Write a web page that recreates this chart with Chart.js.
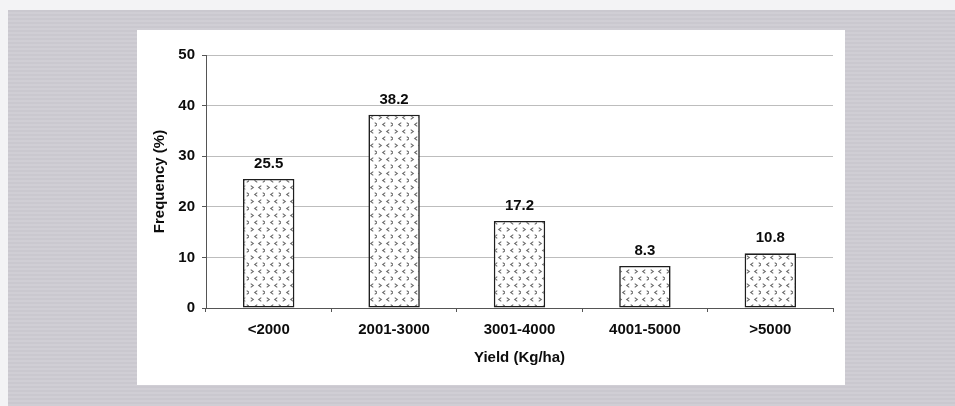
<!DOCTYPE html>
<html>
<head>
<meta charset="utf-8">
<script src="https://cdn.jsdelivr.net/npm/chart.js@4.4.1/dist/chart.umd.min.js"></script>
<style>
  html, body { margin: 0; padding: 0; width: 955px; height: 406px; overflow: hidden; background: #f3f3f5; }
  #page { position: absolute; left: 8px; top: 10px; right: 0; bottom: 0;
          background: #cdcbd2;
          background-image: repeating-linear-gradient(0deg, rgba(255,255,255,0.06) 0 2px, rgba(0,0,0,0.015) 2px 4px); }
  #panel { position: absolute; left: 137px; top: 30px; width: 708px; height: 355px; background: #fff; }
  #chart { display: block; }
</style>
</head>
<body>
<div id="page"></div>
<div id="panel"><canvas id="chart" width="708" height="355"></canvas></div>
<script>
// ── Data ─────────────────────────────────────────────────────────────────────
const CATEGORIES = ['<2000', '2001-3000', '3001-4000', '4001-5000', '>5000'];
const FREQUENCY = [25.5, 38.2, 17.2, 8.3, 10.8];
const Y_TICKS = [0, 10, 20, 30, 40, 50];

const FONT = { family: "'Liberation Sans', Arial, sans-serif", size: 15, weight: 'bold' };
const INK = '#0c0c0c';

// ── Dotted chevron fill like the scanned bars ────────────────────────────────
function makePattern() {
  const tile = document.createElement('canvas');
  tile.width = 16; tile.height = 14;
  const c = tile.getContext('2d');
  c.fillStyle = '#fff';
  c.fillRect(0, 0, 16, 14);
  c.strokeStyle = '#6a6a6a';
  c.lineWidth = 1.1;
  const chev = (x, y, dir) => {
    c.beginPath();
    c.moveTo(x - 1.3 * dir, y - 1.9);
    c.lineTo(x + 1.3 * dir, y);
    c.lineTo(x - 1.3 * dir, y + 1.9);
    c.stroke();
  };
  chev(3, 3.5, 1); chev(11, 3.5, -1);
  chev(7, 10.5, -1); chev(15, 10.5, 1);
  return c.createPattern(tile, 'repeat');
}

// ── Value labels above each bar ──────────────────────────────────────────────
const valueLabels = {
  id: 'valueLabels',
  afterDatasetsDraw(chart) {
    const { ctx } = chart;
    const meta = chart.getDatasetMeta(0);
    ctx.save();
    ctx.font = `${FONT.weight} ${FONT.size}px ${FONT.family}`;
    ctx.fillStyle = INK;
    ctx.textAlign = 'center';
    ctx.textBaseline = 'middle';
    meta.data.forEach((bar, i) => {
      ctx.fillText(FREQUENCY[i].toFixed(1), bar.x, bar.y - 15);
    });
    ctx.restore();
  }
};

const ctx = document.getElementById('chart').getContext('2d');
new Chart(ctx, {
  type: 'bar',
  data: {
    labels: CATEGORIES,
    datasets: [{
      data: FREQUENCY,
      backgroundColor: makePattern(),
      borderColor: '#1e1e1e',
      borderWidth: 1.6,
      borderSkipped: false,
      barPercentage: 0.41,
      categoryPercentage: 1,
    }]
  },
  options: {
    responsive: false,
    animation: false,
    layout: { padding: { top: 25, right: 12, left: 0, bottom: 0 } },
    plugins: { legend: { display: false }, tooltip: { enabled: false } },
    scales: {
      x: {
        afterFit: s => { s.height = 77; },
        grid: { drawOnChartArea: false, drawTicks: true, tickLength: 4, tickColor: '#555' },
        border: { color: '#555', width: 1 },
        ticks: { color: INK, font: FONT, padding: 9, maxRotation: 0 },
        title: { display: true, text: 'Yield (Kg/ha)', color: INK, font: FONT, padding: { top: 0, bottom: 18 } },
      },
      y: {
        min: 0,
        max: 50,
        afterFit: s => { s.width = 69; },
        afterBuildTicks: s => { s.ticks = Y_TICKS.map(v => ({ value: v })); },
        grid: { color: '#bdbdbd', lineWidth: 1, drawTicks: true, tickLength: 4, tickColor: '#555' },
        border: { color: '#555', width: 1 },
        ticks: { color: INK, font: FONT, padding: 7 },
        title: { display: true, text: 'Frequency (%)', color: INK, font: FONT, padding: { top: 14, bottom: 0 } },
      }
    }
  },
  plugins: [valueLabels]
});
</script>
</body>
</html>
